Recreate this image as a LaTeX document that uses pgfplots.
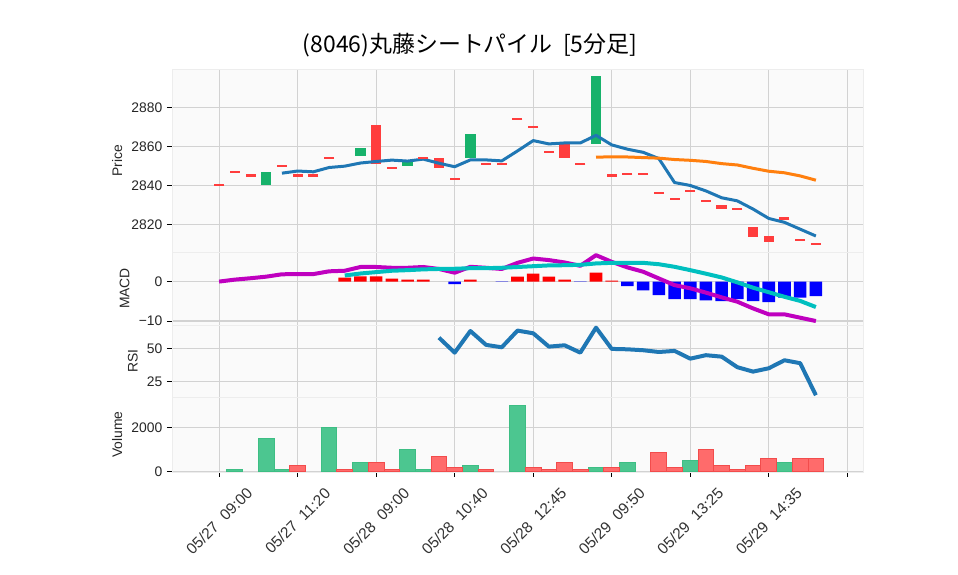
\documentclass[border=0pt]{standalone}
\usepackage{fontspec}
\setmainfont{Liberation Sans}
\newfontfamily\jp{Noto Sans CJK JP}
\usepackage{pgfplots}
\pgfplotsset{compat=1.18}
\usepackage{pgfplotstable}

\definecolor{upc}{HTML}{17B26B}
\definecolor{dnc}{HTML}{FF3D3D}
\definecolor{vup}{HTML}{4CC690}
\definecolor{vupe}{HTML}{3DBE84}
\definecolor{vdn}{HTML}{FF6B6B}
\definecolor{vdne}{HTML}{F24C4C}
\definecolor{smab}{HTML}{1F77B4}
\definecolor{smao}{HTML}{FF7F0E}
\definecolor{macdc}{HTML}{BF00BF}
\definecolor{sigc}{HTML}{00BFBF}
\definecolor{bgc}{HTML}{FAFAFA}
\definecolor{gridc}{HTML}{D2D2D2}
\definecolor{txt}{HTML}{262626}

% candle bodies (open, close)
\pgfplotstableread{
i o c
3 2840 2847
9 2855 2859
12 2850 2852
16 2854 2866.5
24 2861 2896
}\upcandles
\pgfplotstableread{
i o c
10 2871 2851
14 2854 2849
22 2861 2854
32 2830 2828
34 2818.5 2813.5
35 2814 2810.7
}\dncandles
% flat candles
\pgfplotstableread{
i p
0 2840
1 2847
2 2845
4 2850
5 2845
6 2845
7 2854
11 2849
13 2854
15 2843
17 2851
18 2851
19 2874
20 2870
21 2857
23 2851
25 2845
26 2846
27 2846
28 2836
29 2833
30 2837
31 2832
33 2828
36 2823
37 2812
38 2810
}\flat
\pgfplotstableread{
i v
4 2846.2
5 2847.3
6 2846.9
7 2849.1
8 2849.8
9 2851.4
10 2852.2
11 2852.9
12 2852.4
13 2853.4
14 2851.3
15 2849.5
16 2853.0
17 2853.0
18 2852.5
19 2857.6
20 2862.9
21 2861.2
22 2861.7
23 2861.7
24 2865.6
25 2860.7
26 2858.5
27 2856.9
28 2853.7
29 2841.4
30 2839.9
31 2837.1
32 2833.6
33 2832.0
34 2827.8
35 2823.0
36 2821.0
37 2817.5
38 2814.0
}\smafast
\pgfplotstableread{
i v
24 2854.4
25 2854.6
26 2854.5
27 2854.2
28 2853.9
29 2853.2
30 2852.8
31 2852.2
32 2851.1
33 2850.4
34 2848.7
35 2847.2
36 2846.4
37 2844.8
38 2842.6
}\smaslow
\pgfplotstableread{
i v
0 0
1 0.5
2 0.85
3 1.25
4 1.85
5 1.9
6 1.9
7 2.6
8 2.75
9 3.7
10 3.7
11 3.5
12 3.5
13 3.7
14 3.2
15 2.25
16 3.75
17 3.5
18 3.2
19 4.75
20 5.85
21 5.45
22 4.85
23 4.0
24 6.7
25 5.0
26 3.6
27 2.5
28 0.8
29 -0.9
30 -1.7
31 -2.8
32 -4.0
33 -5.1
34 -6.8
35 -8.3
36 -8.3
37 -9.15
38 -10.0
}\macd
\pgfplotstableread{
i v
8 1.55
9 2.05
10 2.4
11 2.75
12 2.9
13 3.1
14 3.2
15 3.25
16 3.4
17 3.4
18 3.5
19 3.7
20 3.9
21 4.1
22 4.15
23 4.25
24 4.6
25 4.75
26 4.75
27 4.75
28 4.4
29 3.75
30 2.9
31 2.0
32 1.05
33 -0.2
34 -1.55
35 -2.7
36 -3.85
37 -4.9
38 -6.45
}\signal
\pgfplotstableread{
i v
8 1.0
9 1.35
10 1.35
11 0.76
12 0.5
13 0.5
16 0.5
19 1.27
20 2.0
21 1.27
22 0.5
24 2.28
25 0.25
}\histpos
\pgfplotstableread{
i v
15 -0.67
18 -0.1
23 -0.1
26 -1.18
27 -2.2
28 -3.46
29 -4.47
30 -4.47
31 -4.73
32 -4.98
33 -4.47
34 -4.98
35 -5.23
36 -4.05
37 -4.05
38 -3.71
}\histneg
\pgfplotstableread{
i v
14 57.9
15 46.7
16 62.9
17 52.5
18 50.7
19 63.2
20 61.2
21 51.2
22 52.2
23 46.7
24 65.4
25 49.5
26 49.2
27 48.5
28 47.2
29 48.0
30 42.2
31 44.8
32 43.7
33 35.8
34 32.5
35 35.0
36 41.0
37 38.8
38 14.8
}\rsi
\pgfplotstableread{
i v
1 100
3 1500
4 100
7 2000
9 400
12 1000
13 100
16 300
19 3000
24 200
26 400
30 520
36 400
}\volup
\pgfplotstableread{
i v
5 300
8 100
10 400
11 100
14 700
15 200
17 100
20 200
21 100
22 400
23 100
25 200
28 870
29 200
31 1000
32 300
33 100
34 300
35 600
37 600
38 600
}\voldn

\pgfplotsset{
  panel/.style={
    scale only axis, width=518.25pt,
    xmin=-3, xmax=41,
    xtick={0,5,...,40},
    axis background/.style={fill=bgc},
    grid=major,
    major grid style={draw=gridc, line width=0.9pt},
    axis line style={draw=white!93!black, line width=0.6pt},
    tick align=outside, ytick pos=left, xtick pos=bottom,
    major tick length=3.75pt,
    tick style={black, line width=0.75pt},
    /pgf/number format/assume math mode=true,
    /pgf/number format/1000 sep={},
    ticklabel style={font=\fontsize{10.4}{12}\selectfont, text=txt},
    ylabel style={font=\fontsize{10.4}{12}\selectfont, text=txt},
  },
  upper/.style={panel, xmajorticks=false, xticklabels={}},
}

\begin{document}
\begin{tikzpicture}
\useasboundingbox (0,0) rectangle (718.5pt,431.25pt);

\node[font=\jp\fontsize{17.2}{20}\selectfont, text=black] at (352.5pt,397.5pt) {(8046)丸藤シートパイル\ \ [5分足]};

% price
\begin{axis}[upper, at={(129pt,242.25pt)}, anchor=south west, height=137.25pt,
  ymin=2805.8, ymax=2899.6, ytick={2820,2840,2860,2880}, ylabel={Price}]
\addplot[draw=none, mark=none, forget plot,
  error bars/.cd, y dir=both, y explicit, error mark=none,
  error bar style={solid, line width=7.9pt, draw=upc}]
  table[x=i, y expr={(\thisrow{o}+\thisrow{c})/2}, y error expr={abs(\thisrow{c}-\thisrow{o})/2}] {\upcandles};
\addplot[draw=none, mark=none, forget plot,
  error bars/.cd, y dir=both, y explicit, error mark=none,
  error bar style={solid, line width=7.9pt, draw=dnc}]
  table[x=i, y expr={(\thisrow{o}+\thisrow{c})/2}, y error expr={abs(\thisrow{c}-\thisrow{o})/2}] {\dncandles};
\addplot[dnc, only marks, mark=-, mark size=3.75pt, mark options={solid, draw=dnc, line width=1.6pt}] table[x=i, y=p] {\flat};
\addplot[smab, line width=2.25pt, line join=round, mark=none] table[x=i, y=v] {\smafast};
\addplot[smao, line width=2.25pt, line join=round, mark=none] table[x=i, y=v] {\smaslow};
\end{axis}

% MACD
\begin{axis}[upper, at={(129pt,187.5pt)}, anchor=south west, height=54.75pt,
  ymin=-11, ymax=7.5, ytick={-10,0}, yticklabels={−10,0}, ylabel={MACD}]
\addplot[ybar, bar width=0.8, bar shift=0pt, fill=red, draw=none] table[x=i, y=v] {\histpos};
\addplot[ybar, bar width=0.8, bar shift=0pt, fill=blue, draw=none] table[x=i, y=v] {\histneg};
\addplot[macdc, line width=3pt, line join=round, mark=none] table[x=i, y=v] {\macd};
\addplot[sigc, line width=3pt, line join=round, mark=none] table[x=i, y=v] {\signal};
\end{axis}

% RSI
\begin{axis}[upper, at={(129pt,133.5pt)}, anchor=south west, height=54pt,
  ymin=13.5, ymax=67.4, ytick={25,50}, ylabel={RSI}]
\addplot[smab, line width=3pt, line join=round, mark=none] table[x=i, y=v] {\rsi};
\end{axis}

% volume
\begin{axis}[panel, at={(129pt,77.25pt)}, anchor=south west, height=56.25pt,
  ymin=-14, ymax=3365, ytick={0,2000}, ylabel={Volume},
  xticklabels={05/27\ \ 09:00, 05/27\ \ 11:20, 05/28\ \ 09:00, 05/28\ \ 10:40, 05/28\ \ 12:45, 05/29\ \ 09:50, 05/29\ \ 13:25, 05/29\ \ 14:35, {}},
  xticklabel style={font=\fontsize{11.6}{13}\selectfont, text=black!80, anchor=center, yshift=-33pt, rotate=45}]
\addplot[ybar, bar width=1, bar shift=0pt, fill=vup, draw=vupe, line width=0.75pt] table[x=i, y=v] {\volup};
\addplot[ybar, bar width=1, bar shift=0pt, fill=vdn, draw=vdne, line width=0.75pt] table[x=i, y=v] {\voldn};
\end{axis}
\end{tikzpicture}
\end{document}
